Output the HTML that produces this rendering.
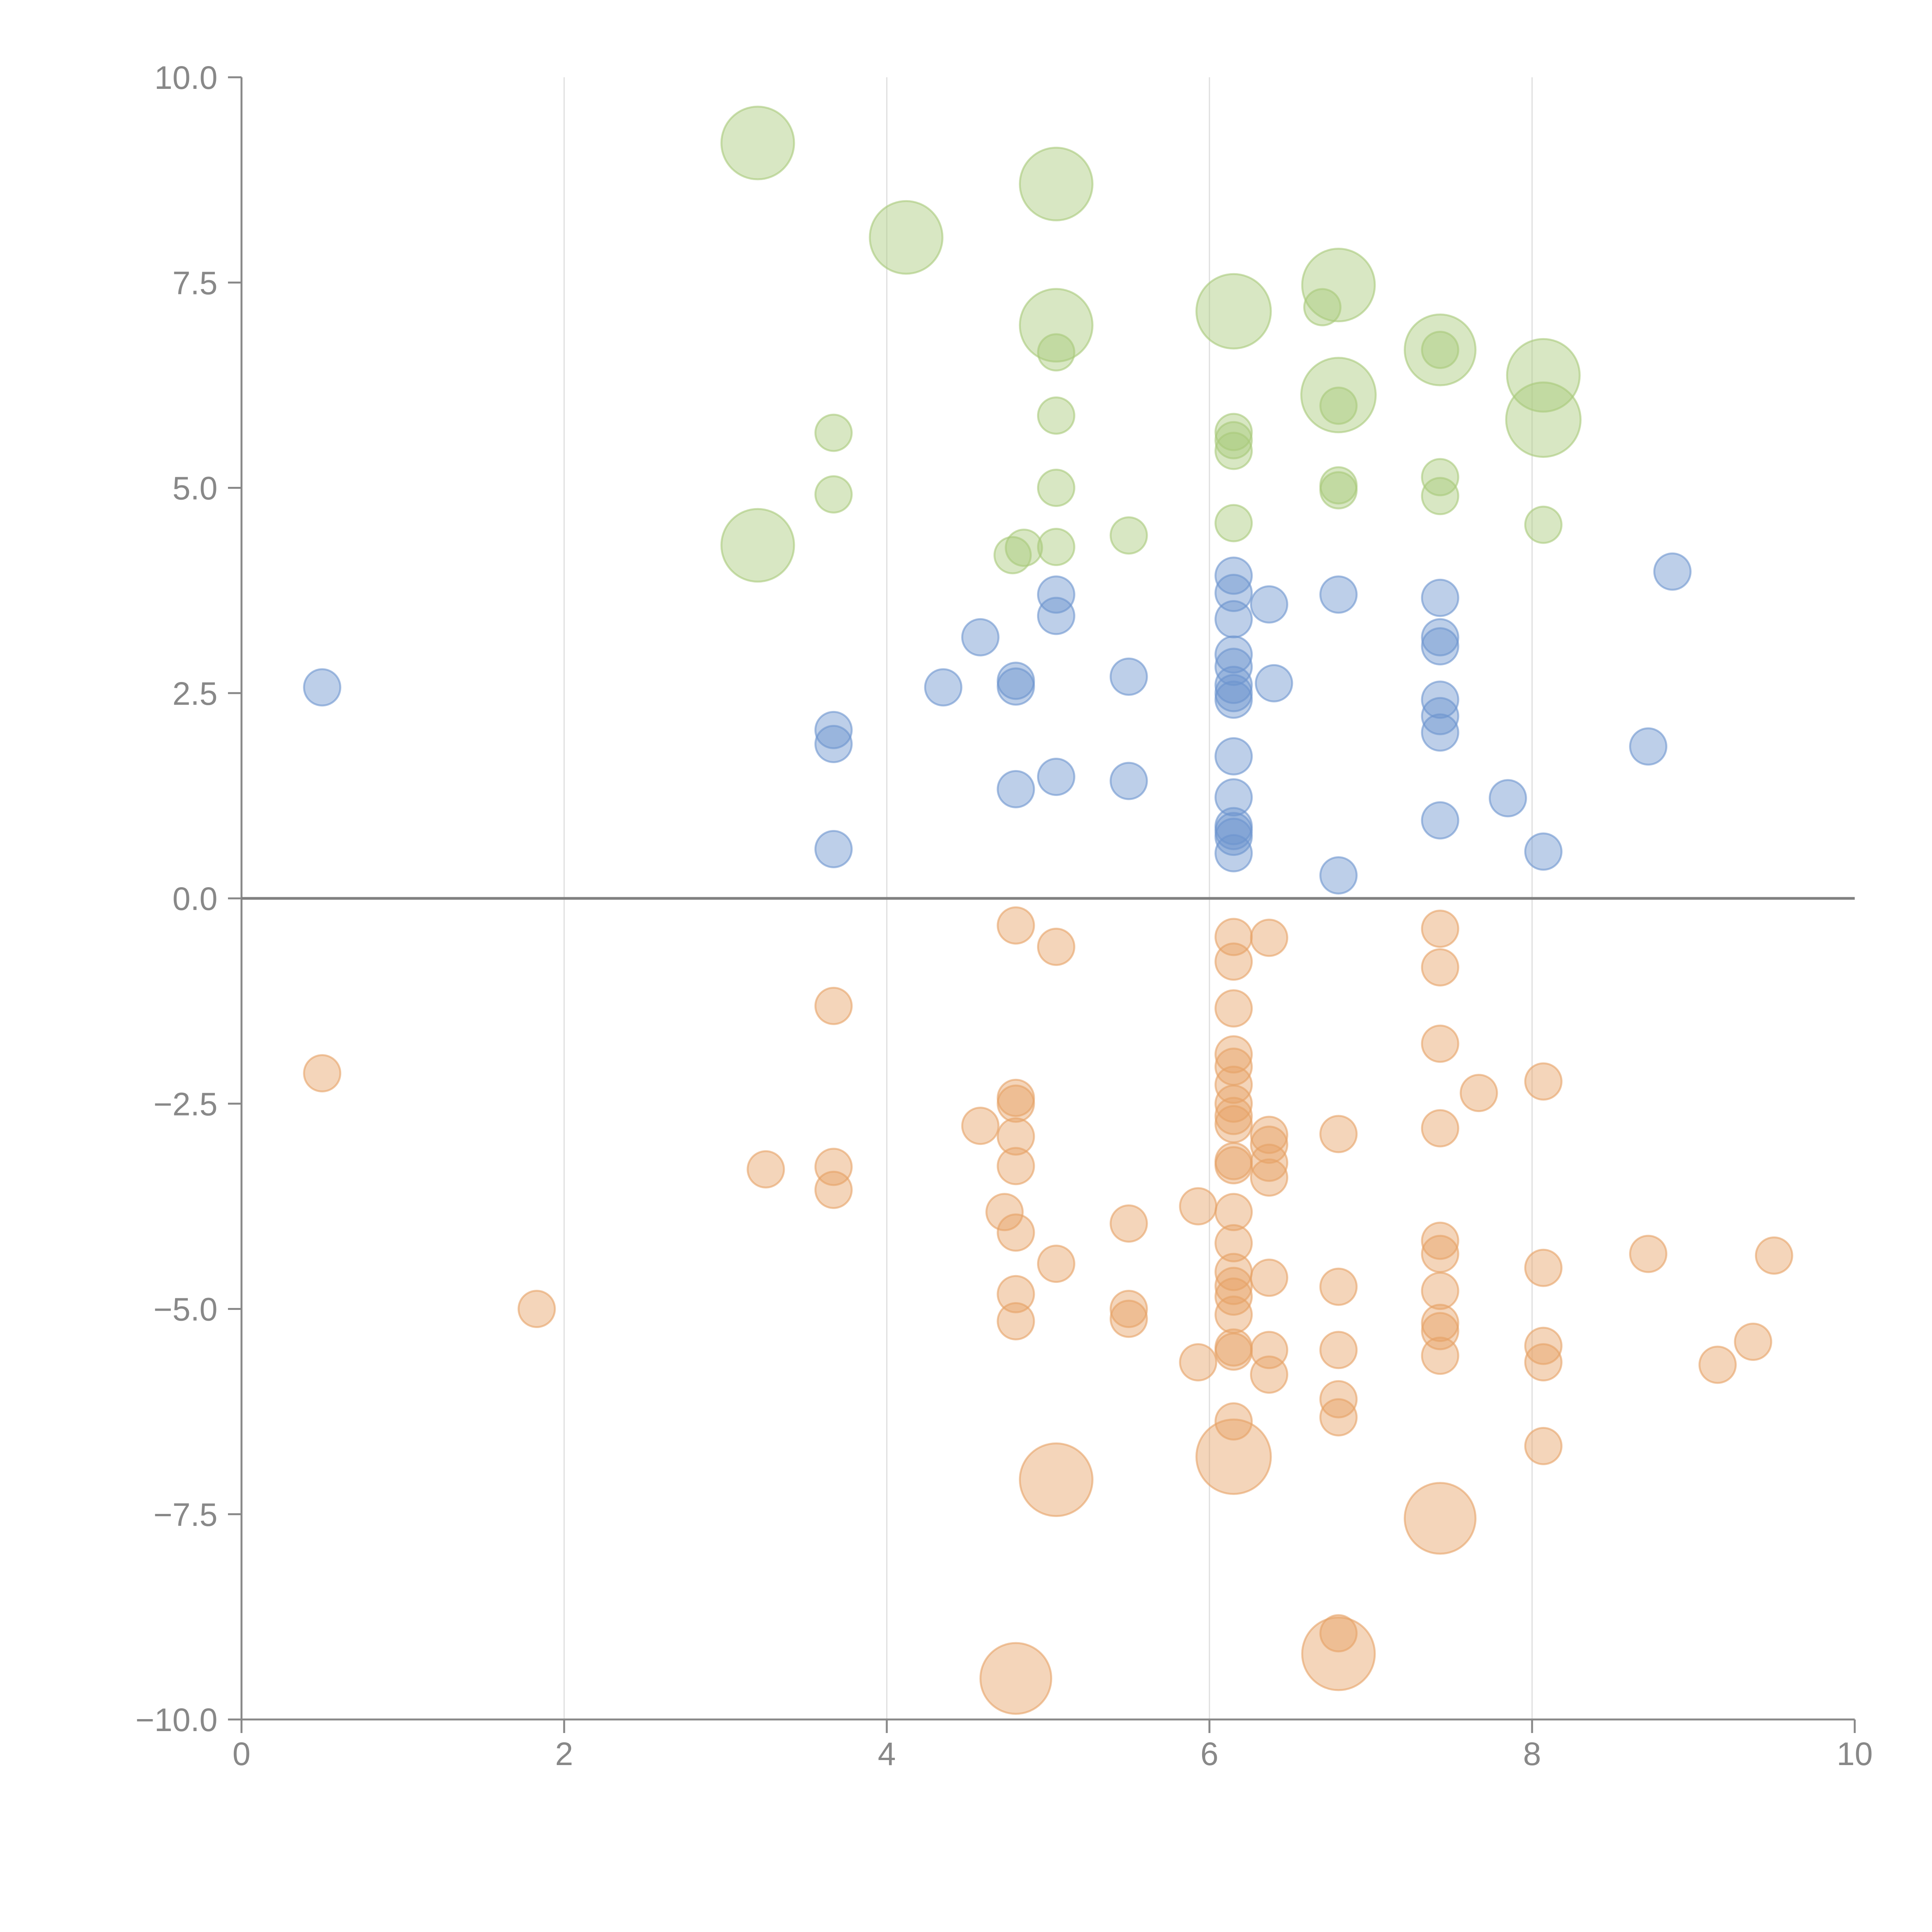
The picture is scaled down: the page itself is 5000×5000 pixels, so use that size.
<!DOCTYPE html>
<html><head><meta charset="utf-8"><style>html,body{margin:0;padding:0;background:#fff}svg{display:block}</style></head>
<body>
<svg id="chart" width="5000" height="5000" viewBox="0 0 5000 5000" xmlns="http://www.w3.org/2000/svg"></svg>
<script>
const xTicks = [0, 2, 4, 6, 8, 10];
const xTickLabels = ["0", "2", "4", "6", "8", "10"];
const yTicks = [10, 7.5, 5, 2.5, 0, -2.5, -5, -7.5, -10];
const yTickLabels = ["10.0", "7.5", "5.0", "2.5", "0.0", "\u22122.5", "\u22125.0", "\u22127.5", "\u221210.0"];

const greenX = [3.2,5.05,4.12,6.8,6.15,5.05,7.43,8.07,6.8,8.07,3.2, 6.7,5.05,7.43,3.67,5.05,6.15,6.15,6.15,6.8,3.67,5.05,6.8,6.8,7.43,7.43,6.15,8.07,5.5,4.85,4.78,5.05];
const greenY = [9.2,8.7,8.05,7.47,7.15,6.98,6.68,6.37,6.13,5.83,4.3, 7.2,6.65,6.68,5.67,5.88,5.68,5.58,5.45,6.0,4.92,5.0,5.03,4.97,5.13,4.9,4.57,4.55,4.42,4.27,4.18,4.28];
const greenS = [2,2,2,2,2.05,2,1.95,2,2.05,2.05,2, 1,1,1,1,1,1,1,1,1,1,1,1,1,1,1,1,1,1,1,1,1];

const blueX = [8.87,6.15,6.15,5.05,6.8,7.43,6.37,6.15,5.05,4.58,7.43,7.43,6.15,6.15,4.8,4.8,5.5,6.4,4.35,0.5,6.15,6.15,6.15,7.43,7.43,3.67,7.43,3.67,8.72,6.15,5.05,5.5,4.8,6.15,7.85,7.43,6.15,6.15,6.15,3.67,8.07,6.15,6.8];
const blueY = [3.98,3.93,3.72,3.7,3.7,3.66,3.58,3.4,3.44,3.18,3.18,3.07,2.97,2.82,2.65,2.58,2.7,2.62,2.57,2.57,2.6,2.5,2.42,2.42,2.22,2.05,2.02,1.88,1.85,1.73,1.48,1.43,1.33,1.23,1.22,0.95,0.88,0.82,0.75,0.6,0.57,0.55,0.28];

const orangeX = [4.8,5.05,6.15,6.37,7.43,6.15,7.43,3.67,6.15,7.43,6.15,6.15,0.5,8.07,6.15,7.67,4.8,4.8,6.15,6.15,6.15,4.58,7.43,6.37,6.8,4.8,6.37,6.15,6.15,6.37,3.25,3.67,4.8,6.37,3.67,5.93,4.73,6.15,5.5,4.8,7.43,6.15,7.43,8.72,9.5,5.05,8.07,6.15,6.37,6.15,6.8,7.43,4.8,6.15,1.83,5.5,6.15,5.5,4.8,7.43,7.43,9.37,8.07,6.15,6.15,6.37,6.8,7.43,8.07,5.93,9.15,6.37,6.8,6.8,6.15,8.07,6.8, 6.15,5.05,7.43,6.8,4.8];
const orangeY = [-0.33,-0.59,-0.47,-0.48,-0.37,-0.77,-0.84,-1.31,-1.34,-1.77,-1.9,-2.05,-2.13,-2.23,-2.27,-2.37,-2.43,-2.5,-2.5,-2.65,-2.75,-2.77,-2.8,-2.88,-2.87,-2.9,-3.0,-3.2,-3.25,-3.22,-3.3,-3.27,-3.26,-3.4,-3.55,-3.75,-3.82,-3.82,-3.96,-4.07,-4.17,-4.2,-4.33,-4.33,-4.35,-4.45,-4.5,-4.55,-4.62,-4.72,-4.73,-4.78,-4.82,-4.85,-5.0,-5.0,-5.07,-5.12,-5.15,-5.17,-5.27,-5.4,-5.45,-5.47,-5.52,-5.5,-5.5,-5.57,-5.65,-5.65,-5.68,-5.8,-6.1,-6.32,-6.37,-6.67,-8.95, -6.8,-7.08,-7.55,-9.2,-9.5];
const orangeS = [1,1,1,1,1,1,1,1,1,1,1,1,1,1,1,1,1,1,1,1,1,1,1,1,1,1,1,1,1,1,1,1,1,1,1,1,1,1,1,1,1,1,1,1,1,1,1,1,1,1,1,1,1,1,1,1,1,1,1,1,1,1,1,1,1,1,1,1,1,1,1,1,1,1,1,1,1, 2.05,2,1.95,2,1.95];

const NS = "http://www.w3.org/2000/svg";
const svg = document.getElementById("chart");
const L = 625, R = 4800, T = 200, B = 4450;
function xScale(v){ return L + (v - 0) / 10 * (R - L); }
function yScale(v){ return T + (10 - v) / 20 * (B - T); }
function mk(tag, attrs){ const e = document.createElementNS(NS, tag); for (const k in attrs) e.setAttribute(k, attrs[k]); svg.appendChild(e); return e; }

xTicks.forEach(function(t){
  if (t === 0 || t === 10) return;
  const g = mk("line", {x1: xScale(t), x2: xScale(t), y1: T, y2: B, stroke: "#dedede", "stroke-width": 3});
  
  
});

const ya = mk("line", {x1: L, x2: L, y1: T, y2: B + 35, stroke: "#888", "stroke-width": 5});


const xa = mk("line", {x1: L - 35, x2: R, y1: B, y2: B, stroke: "#888", "stroke-width": 5});



xTicks.forEach(function(t, i){
  const tk = mk("line", {x1: xScale(t), x2: xScale(t), y1: B, y2: B + 35, stroke: "#888", "stroke-width": 5});
  
  
  const tx = mk("text", {x: xScale(t), y: B + 118, "text-anchor": "middle", "font-family": "Liberation Sans, sans-serif", "font-size": 84, fill: "#888"});
  tx.textContent = xTickLabels[i];
  
  
});
yTicks.forEach(function(t, i){
  const tk = mk("line", {x1: L - 35, x2: L, y1: yScale(t), y2: yScale(t), stroke: "#888", "stroke-width": 5});
  
  
  const tx = mk("text", {x: L - 62, y: yScale(t) + 30, "text-anchor": "end", "font-family": "Liberation Sans, sans-serif", "font-size": 84, fill: "#888"});
  tx.textContent = yTickLabels[i];
  
  
});

function drawSeries(xs, ys, ss, fill, stroke, name){
  for (let i = 0; i < xs.length; i++) {
    const s = ss ? ss[i] : 1;
    const c = mk("circle", {cx: xScale(xs[i]), cy: yScale(ys[i]), r: 47 * s, fill: fill, "fill-opacity": 0.45, stroke: stroke, "stroke-opacity": 0.6, "stroke-width": 5});
    
    
  }
}
drawSeries(greenX, greenY, greenS, "#a9c97a", "#a9c97a", "green-bubble");
drawSeries(blueX, blueY, null, "#6d95cf", "#6d95cf", "blue-bubble");
drawSeries(orangeX, orangeY, orangeS, "#e6a165", "#e6a165", "orange-bubble");

const z = mk("line", {x1: L, x2: R, y1: yScale(0), y2: yScale(0), stroke: "#808080", "stroke-width": 7});


</script>
</body></html>
